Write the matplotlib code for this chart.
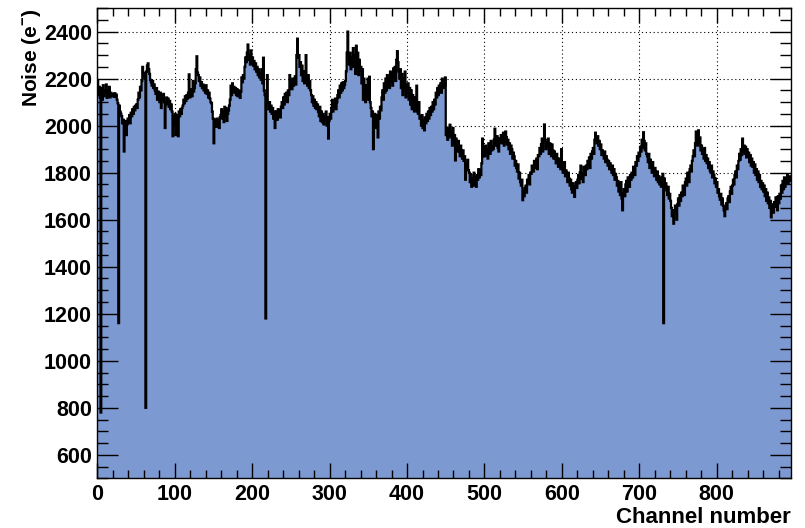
import numpy as np
import matplotlib
matplotlib.use("Agg")
from matplotlib import pyplot as plt
from matplotlib.ticker import MultipleLocator

plt.rcParams['font.family'] = ['Liberation Sans', 'DejaVu Sans']
plt.rcParams['font.weight'] = 'bold'
plt.rcParams['mathtext.fontset'] = 'custom'
plt.rcParams['mathtext.bf'] = 'Liberation Sans:bold'
plt.rcParams['mathtext.rm'] = 'Liberation Sans:bold'

# noise per channel (e-), 100 channels per block
noise_000 = [2190, 2130, 2165, 2120, 780, 2160, 2110, 2172, 2125, 2150,
             2140, 2175, 2118, 2150, 2130, 2165, 2120, 2140, 2128, 2135,
             2130, 2122, 2138, 2125, 2132, 2110, 2095, 1160, 2085, 2060,
             2050, 2040, 2010, 2025, 1890, 1995, 2020, 1960, 2005, 2030,
             2015, 2045, 2010, 2055, 2040, 2070, 2050, 2080, 2065, 2085,
             2090, 2075, 2110, 2140, 2120, 2165, 2150, 2190, 2250, 2215,
             2225, 2200, 800, 2230, 2255, 2265, 2240, 2220, 2195, 2185,
             2170, 2190, 2160, 2175, 2150, 2135, 2160, 2110, 2145, 2120,
             2100, 2140, 2075, 2125, 2110, 2135, 2100, 1990, 2090, 2120,
             2095, 2115, 2080, 2105, 2070, 2090, 2060, 1955, 2040, 2005]
noise_100 = [2050, 1960, 2030, 2045, 1955, 2060, 2040, 2070, 2050, 2075,
             2085, 2110, 2095, 2125, 2105, 2130, 2115, 2140, 2218, 2120,
             2135, 2155, 2125, 2190, 2145, 2160, 2180, 2240, 2295, 2225,
             2215, 2190, 2205, 2170, 2185, 2160, 2175, 2150, 2165, 2140,
             2172, 2135, 2150, 2120, 2140, 2115, 2100, 2095, 2060, 2030,
             1925, 2010, 2025, 1995, 2030, 2000, 2020, 1990, 2035, 2045,
             2070, 2030, 2060, 2015, 2080, 2040, 2075, 2020, 2050, 2065,
             2085, 2110, 2170, 2130, 2180, 2150, 2165, 2140, 2160, 2130,
             2155, 2125, 2150, 2135, 2118, 2145, 2205, 2185, 2215, 2200,
             2250, 2290, 2270, 2310, 2345, 2280, 2300, 2260, 2320, 2265]
noise_200 = [2290, 2255, 2275, 2240, 2265, 2230, 2250, 2215, 2240, 2205,
             2220, 2195, 2240, 2180, 2289, 2150, 2130, 1180, 2110, 2215,
             2095, 2070, 2100, 2060, 2085, 2050, 2075, 2030, 2060, 1990,
             2040, 2060, 2025, 2070, 2045, 2065, 2035, 2080, 2100, 2075,
             2120, 2090, 2135, 2110, 2140, 2100, 2150, 2130, 2215, 2160,
             2190, 2155, 2200, 2170, 2180, 2210, 2175, 2300, 2370, 2290,
             2300, 2250, 2270, 2215, 2255, 2190, 2230, 2180, 2210, 2300,
             2200, 2170, 2215, 2160, 2190, 2150, 2130, 2100, 2125, 2085,
             2110, 2075, 2100, 2070, 2090, 2060, 2040, 2080, 2020, 2060,
             2015, 2050, 2005, 2040, 2025, 2060, 2000, 2035, 1945, 2020]
noise_300 = [2050, 2030, 2075, 2110, 2060, 2095, 2080, 2115, 2070, 2100,
             2130, 2150, 2120, 2170, 2140, 2180, 2150, 2185, 2160, 2175,
             2190, 2230, 2310, 2400, 2300, 2260, 2310, 2240, 2290, 2250,
             2330, 2260, 2300, 2220, 2340, 2250, 2310, 2215, 2280, 2235,
             2250, 2180, 2240, 2110, 2200, 2150, 2100, 2170, 2120, 2200,
             2110, 2208, 2100, 2075, 2040, 2060, 1900, 2020, 2050, 1990,
             2045, 2010, 1950, 2060, 2030, 2080, 2065, 2120, 2150, 2110,
             2180, 2140, 2200, 2150, 2215, 2170, 2200, 2160, 2230, 2190,
             2210, 2170, 2243, 2200, 2250, 2190, 2280, 2317, 2270, 2230,
             2200, 2240, 2160, 2220, 2130, 2200, 2150, 2230, 2120, 2170]
noise_400 = [2140, 2180, 2110, 2160, 2090, 2150, 2070, 2130, 2100, 2060,
             2120, 2080, 2170, 2060, 2050, 2100, 2030, 2040, 2000, 2045,
             1990, 2020, 1980, 2035, 2010, 2050, 2020, 2060, 2030, 2075,
             2045, 2080, 2060, 2100, 2070, 2110, 2090, 2140, 2120, 2160,
             2130, 2170, 2150, 2180, 2140, 2200, 2160, 2190, 2170, 2205,
             1960, 1990, 1940, 1985, 1950, 2004, 1960, 1975, 1915, 1990,
             1930, 1960, 1852, 1945, 1920, 1890, 1935, 1900, 1870, 1915,
             1880, 1860, 1895, 1850, 1870, 1770, 1840, 1815, 1855, 1810,
             1800, 1760, 1790, 1740, 1775, 1745, 1800, 1750, 1780, 1740,
             1790, 1770, 1815, 1780, 1810, 1790, 1840, 1945, 1870, 1900]
noise_500 = [1870, 1915, 1890, 1900, 1860, 1925, 1905, 1880, 1935, 1895,
             1910, 1900, 1940, 1987, 1925, 1915, 1955, 1905, 1890, 1945,
             1930, 1960, 1925, 1940, 1970, 1915, 1935, 1975, 1950, 1920,
             1940, 1900, 1925, 1880, 1915, 1900, 1860, 1885, 1870, 1830,
             1850, 1820, 1805, 1835, 1775, 1800, 1760, 1745, 1770, 1683,
             1720, 1700, 1735, 1745, 1715, 1770, 1760, 1790, 1750, 1800,
             1795, 1830, 1810, 1805, 1850, 1820, 1840, 1860, 1815, 1875,
             1870, 1905, 1880, 1920, 1945, 1890, 1935, 2005, 1940, 1900,
             1930, 1915, 1945, 1880, 1925, 1905, 1870, 1920, 1895, 1860,
             1890, 1870, 1840, 1880, 1850, 1825, 1860, 1830, 1815, 1900]
noise_600 = [1835, 1800, 1820, 1845, 1785, 1810, 1790, 1760, 1800, 1775,
             1745, 1770, 1730, 1715, 1755, 1725, 1697, 1740, 1760, 1735,
             1770, 1790, 1755, 1800, 1830, 1775, 1795, 1760, 1825, 1810,
             1790, 1830, 1815, 1850, 1835, 1865, 1820, 1880, 1860, 1890,
             1905, 1880, 1940, 1970, 1950, 1925, 1955, 1915, 1935, 1900,
             1920, 1875, 1895, 1880, 1860, 1890, 1845, 1870, 1855, 1830,
             1850, 1815, 1840, 1825, 1800, 1830, 1790, 1815, 1770, 1795,
             1780, 1745, 1765, 1720, 1755, 1705, 1760, 1690, 1640, 1710,
             1730, 1700, 1750, 1765, 1720, 1780, 1750, 1740, 1790, 1770,
             1800, 1780, 1825, 1810, 1790, 1845, 1830, 1870, 1850, 1885]
noise_700 = [1870, 1910, 1890, 1940, 1905, 1972, 1935, 1895, 1925, 1880,
             1870, 1845, 1880, 1820, 1855, 1830, 1800, 1845, 1815, 1785,
             1820, 1790, 1770, 1805, 1760, 1785, 1750, 1775, 1740, 1780,
             1795, 1160, 1775, 1740, 1755, 1725, 1705, 1740, 1690, 1710,
             1680, 1650, 1615, 1640, 1583, 1625, 1660, 1635, 1600, 1665,
             1690, 1660, 1705, 1680, 1715, 1700, 1745, 1720, 1705, 1760,
             1775, 1745, 1800, 1780, 1760, 1815, 1830, 1805, 1850, 1870,
             1895, 1870, 1925, 1975, 1940, 1915, 1980, 1930, 1950, 1895,
             1915, 1880, 1900, 1860, 1905, 1850, 1875, 1840, 1860, 1820,
             1845, 1810, 1800, 1830, 1780, 1805, 1790, 1755, 1775, 1740]
noise_800 = [1760, 1715, 1730, 1700, 1685, 1710, 1665, 1690, 1660, 1640,
             1615, 1650, 1670, 1645, 1690, 1700, 1675, 1720, 1740, 1710,
             1745, 1770, 1750, 1790, 1805, 1780, 1830, 1815, 1850, 1880,
             1855, 1900, 1875, 1945, 1890, 1915, 1880, 1910, 1865, 1900,
             1870, 1885, 1845, 1875, 1830, 1860, 1825, 1845, 1800, 1835,
             1790, 1815, 1770, 1805, 1760, 1790, 1740, 1765, 1730, 1755,
             1720, 1745, 1700, 1730, 1680, 1715, 1670, 1695, 1650, 1680,
             1610, 1665, 1640, 1630, 1675, 1655, 1695, 1665, 1640, 1700,
             1670, 1710, 1690, 1745, 1715, 1765, 1730, 1780, 1740, 1775,
             1760, 1790, 1755, 1780, 1765, 1785]

noise = np.array(noise_000 + noise_100 + noise_200 + noise_300 + noise_400
                 + noise_500 + noise_600 + noise_700 + noise_800, dtype=float)
edges = np.arange(len(noise) + 1)

fill_color = '#7d99d1'
rect = [0.121, 0.094, 0.8616, 0.8907]

fig = plt.figure(figsize=(8.05, 5.28), dpi=100)

# grid lives on a background axes so the histogram covers it but not the ticks
ax_bg = fig.add_axes(rect, zorder=0)
ax = fig.add_axes(rect, zorder=1, sharex=ax_bg, sharey=ax_bg)
ax.patch.set_visible(False)

ax.stairs(noise, edges, baseline=0, fill=True, color=fill_color, lw=0)
ax.stairs(noise, edges, baseline=None, color='black', lw=1.6)

ax.set_xlim(0, len(noise))
ax.set_ylim(500, 2500)
ax.xaxis.set_major_locator(MultipleLocator(100))
ax.xaxis.set_minor_locator(MultipleLocator(20))
ax.yaxis.set_major_locator(MultipleLocator(200))
ax.yaxis.set_minor_locator(MultipleLocator(50))

ax_bg.grid(True, which='major', color='black', linestyle=(0, (1, 2.5)), lw=0.8)
ax_bg.tick_params(which='both', length=0, labelleft=False, labelbottom=False)
for s in ax_bg.spines.values():
    s.set_visible(False)

ax.tick_params(which='both', direction='in', top=True, right=True,
               width=1.0, labelsize=15.5)
ax.tick_params(axis='y', which='major', length=15, pad=4)
ax.tick_params(axis='y', which='minor', length=8)
ax.tick_params(axis='x', which='major', length=11, pad=4)
ax.tick_params(axis='x', which='minor', length=5.5)
for s in ax.spines.values():
    s.set_linewidth(1.0)

ax.set_xlabel('Channel number', fontsize=16, fontweight='bold', loc='right')
ax.xaxis.set_label_coords(1.0, -0.060)
ax.set_ylabel(r'Noise (e$^{\mathbf{-}}$)', fontsize=15, fontweight='bold', loc='top')
ax.yaxis.set_label_coords(-0.078, 1.0)

fig.savefig('out.png', dpi=100)
